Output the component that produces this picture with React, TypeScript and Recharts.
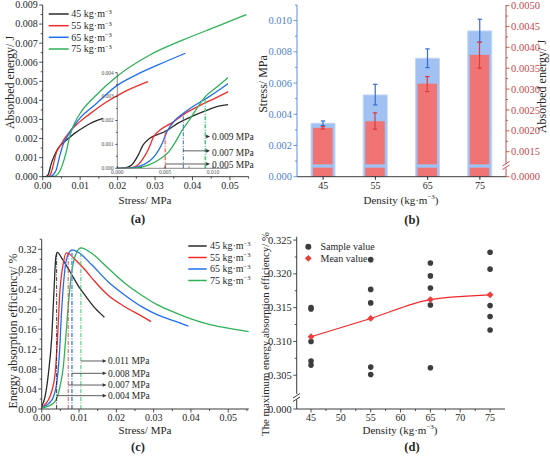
import React from "react";
import {
  Bar,
  ComposedChart,
  ErrorBar,
  Line,
  LineChart,
  ReferenceLine,
  Scatter,
  XAxis,
  YAxis,
} from "recharts";

// Four Origin-style panels: (a) absorbed energy vs stress with zoomed inset,
// (b) stress / energy bars per density, (c) efficiency vs stress,
// (d) max efficiency per density with mean fit.

const SERIF = "'Liberation Serif', 'Times New Roman', serif";
const INK = "#262626";

const densities = ["45", "55", "65", "75"];
const lineColors = ["#2b2b2b", "#f42a2a", "#1f6ef2", "#2fb157"];

// (a) [stress MPa, absorbed energy J]
const energy45 = [[0, 0], [0.001, 0.00002], [0.0015, 0.00012], [0.0023, 0.0007], [0.0032, 0.00114], [0.0041, 0.00149], [0.0059, 0.00184], [0.0085, 0.00227], [0.0112, 0.00262], [0.0134, 0.00286], [0.0161, 0.00306]];
const energy55 = [[0, 0], [0.0015, 0.00002], [0.0021, 0.00012], [0.0027, 0.00052], [0.0036, 0.00123], [0.0045, 0.00157], [0.0076, 0.00245], [0.0094, 0.0028], [0.0125, 0.00328], [0.0165, 0.00385], [0.0219, 0.00446], [0.0281, 0.00498]];
const energy65 = [[0, 0], [0.002, 0.00002], [0.0028, 0.0001], [0.0036, 0.00035], [0.0045, 0.00105], [0.0054, 0.00166], [0.0068, 0.00219], [0.0085, 0.00271], [0.0103, 0.00315], [0.0139, 0.00376], [0.0197, 0.00476], [0.025, 0.00534], [0.0308, 0.00586], [0.0381, 0.00647]];
const energy75 = [[0, 0], [0.003, 0.00002], [0.0045, 0.00026], [0.0054, 0.0007], [0.0063, 0.00131], [0.0072, 0.0021], [0.0085, 0.0028], [0.0103, 0.00341], [0.0139, 0.0042], [0.0197, 0.00524], [0.0286, 0.00638], [0.0375, 0.00717], [0.0464, 0.00787], [0.0544, 0.0085]];

// (a) inset, first 0.0116 MPa
const inset45 = [[0, 0], [0.0008, 0.00002], [0.0015, 0.00014], [0.0022, 0.00056], [0.0027, 0.00098], [0.0034, 0.00126], [0.0043, 0.00143], [0.005, 0.00154], [0.0064, 0.0019], [0.0078, 0.00217], [0.0092, 0.0024], [0.0106, 0.0026], [0.0116, 0.00266]];
const inset55 = [[0, 0], [0.0012, 0.00002], [0.0019, 0.00007], [0.0026, 0.00035], [0.0033, 0.00084], [0.0038, 0.00133], [0.0045, 0.00161], [0.0057, 0.0019], [0.0071, 0.0023], [0.0085, 0.0026], [0.0103, 0.00295], [0.0116, 0.00321]];
const inset65 = [[0, 0], [0.0015, 0.00002], [0.0022, 0.00007], [0.0033, 0.00028], [0.004, 0.00056], [0.0047, 0.00105], [0.0052, 0.00154], [0.006, 0.002], [0.0069, 0.0023], [0.0082, 0.00266], [0.0096, 0.003], [0.0116, 0.00355]];
const inset75 = [[0, 0], [0.002, 0.00002], [0.0033, 0.00014], [0.0043, 0.00035], [0.0054, 0.0007], [0.006, 0.00105], [0.0068, 0.00161], [0.0075, 0.002], [0.0083, 0.0025], [0.0092, 0.003], [0.0104, 0.0034], [0.0116, 0.0038]];
// [stress, energy at marker, arrow height, colour]
const insetMarkers = [
  { x: 0.005, top: 0.0016, arrowY: 0.00018, color: "#ee3434", label: "0.005 MPa" },
  { x: 0.0069, top: 0.0023, arrowY: 0.00073, color: "#2a72e6", label: "0.007 MPa" },
  { x: 0.0092, top: 0.003, arrowY: 0.00133, color: "#52c283", label: "0.009 MPa" },
];
const insetArrowEnd = 0.0097;

// (b) per density
const stressMean = [0.00342, 0.00524, 0.00759, 0.00934];
const stressErr = [[0.00015, 0.00015], [0.00064, 0.00068], [0.0006, 0.0006], [0.00072, 0.00075]];
const energyMean = [0.00207, 0.00223, 0.00313, 0.00382];
const energyErr = [[0.00003, 0.00003], [0.00019, 0.0002], [0.00019, 0.00017], [0.00032, 0.0003]];

// (c) [stress MPa, efficiency]
const eff45 = [[0, 0.005], [0.0009, 0.025], [0.0018, 0.071], [0.0027, 0.145], [0.0033, 0.238], [0.0038, 0.305], [0.0042, 0.314], [0.0054, 0.302], [0.0076, 0.275], [0.0103, 0.241], [0.0116, 0.228], [0.0143, 0.202], [0.0168, 0.184]];
const eff55 = [[0, 0.003], [0.0022, 0.025], [0.0036, 0.071], [0.0042, 0.138], [0.0049, 0.238], [0.0058, 0.292], [0.0066, 0.313], [0.0075, 0.31], [0.0089, 0.3], [0.0116, 0.279], [0.0143, 0.255], [0.0178, 0.228], [0.0223, 0.205], [0.0268, 0.186], [0.0293, 0.175]];
const eff65 = [[0, 0.003], [0.0027, 0.018], [0.004, 0.051], [0.0047, 0.105], [0.0054, 0.205], [0.0063, 0.285], [0.0072, 0.312], [0.0082, 0.319], [0.0098, 0.314], [0.0134, 0.289], [0.0178, 0.255], [0.0223, 0.228], [0.0268, 0.205], [0.0312, 0.188], [0.0357, 0.176], [0.0393, 0.166]];
const eff75 = [[0, 0.002], [0.0031, 0.011], [0.0049, 0.045], [0.0058, 0.085], [0.0064, 0.138], [0.0071, 0.205], [0.008, 0.272], [0.0089, 0.305], [0.0105, 0.323], [0.0134, 0.312], [0.0178, 0.282], [0.0223, 0.252], [0.0268, 0.228], [0.0312, 0.208], [0.0357, 0.193], [0.0402, 0.18], [0.0446, 0.17], [0.0491, 0.163], [0.0555, 0.155]];
const peakMarkers = [
  { x: 0.004, top: 0.314, arrowY: 0.0267, color: "#222222", width: 0.9, label: "0.004 MPa" },
  { x: 0.0071, top: 0.313, arrowY: 0.048, color: "#ee3434", width: 0.9, label: "0.007 MPa" },
  { x: 0.0081, top: 0.318, arrowY: 0.0715, color: "#62a4f4", width: 1.8, label: "0.008 MPa" },
  { x: 0.0105, top: 0.323, arrowY: 0.0962, color: "#3cb468", width: 0.9, label: "0.011 MPa" },
];
const peakArrowEnd = 0.0174;

// (d) max efficiency samples per density
const maxEff45 = [0.315, 0.3148, 0.31, 0.3071, 0.3065];
const maxEff55 = [0.3221, 0.3177, 0.3157, 0.3062, 0.3051];
const maxEff65 = [0.3216, 0.3197, 0.3179, 0.3154, 0.3061];
const maxEff75 = [0.3232, 0.3207, 0.3153, 0.3137, 0.3117];
const densityValues = [45, 55, 65, 75];
const maxEffMean = [0.3107, 0.3134, 0.3162, 0.3169];

// ticks (minor ones get no label)
const aXTicks = [0, 0.005, 0.01, 0.015, 0.02, 0.025, 0.03, 0.035, 0.04, 0.045, 0.05, 0.055];
const aXMajor = [0, 0.01, 0.02, 0.03, 0.04, 0.05];
const aYTicks = [0, 0.0005, 0.001, 0.0015, 0.002, 0.0025, 0.003, 0.0035, 0.004, 0.0045, 0.005, 0.0055, 0.006, 0.0065, 0.007, 0.0075, 0.008, 0.0085, 0.009];
const aYMajor = [0, 0.001, 0.002, 0.003, 0.004, 0.005, 0.006, 0.007, 0.008, 0.009];
const insetXTicks = [0, 0.0025, 0.005, 0.0075, 0.01];
const insetXMajor = [0, 0.005, 0.01];
const insetYTicks = [0, 0.0005, 0.001, 0.0015, 0.002, 0.0025, 0.003, 0.0035, 0.004];
const insetYMajor = [0, 0.001, 0.002, 0.003, 0.004];
const stressTicks = [0, 0.001, 0.002, 0.003, 0.004, 0.005, 0.006, 0.007, 0.008, 0.009, 0.01, 0.011];
const stressMajor = [0, 0.002, 0.004, 0.006, 0.008, 0.01];
const energyBreakBase = 0.000901; // axis bottom, shown as 0.0000
const energyTicks = [energyBreakBase, 0.0015, 0.00175, 0.002, 0.00225, 0.0025, 0.00275, 0.003, 0.00325, 0.0035, 0.00375, 0.004, 0.00425, 0.0045, 0.00475, 0.005];
const energyMajor = [energyBreakBase, 0.0015, 0.002, 0.0025, 0.003, 0.0035, 0.004, 0.0045, 0.005];
const cYTicks = [0, 0.02, 0.04, 0.06, 0.08, 0.1, 0.12, 0.14, 0.16, 0.18, 0.2, 0.22, 0.24, 0.26, 0.28, 0.3, 0.32, 0.34];
const cYMajor = [0, 0.04, 0.08, 0.12, 0.16, 0.2, 0.24, 0.28, 0.32];
const dXTicks = [45, 47.5, 50, 52.5, 55, 57.5, 60, 62.5, 65, 67.5, 70, 72.5, 75];
const dXMajor = [45, 50, 55, 60, 65, 70, 75];
const dYTicks = [0.3, 0.305, 0.3075, 0.31, 0.3125, 0.315, 0.3175, 0.32, 0.3225, 0.325];
const dYMajor = [0.3, 0.305, 0.31, 0.315, 0.32, 0.325];

const toPts = (rows: number[][]) => rows.map(([x, y]) => ({ x, y }));
const energySeries = [energy45, energy55, energy65, energy75].map(toPts);
const insetSeries = [inset45, inset55, inset65, inset75].map(toPts);
const effSeries = [eff45, eff55, eff65, eff75].map(toPts);
const barData = densities.map((density, i) => ({
  density,
  stress: stressMean[i],
  stressErr: stressErr[i],
  energy: energyMean[i],
  energyErr: energyErr[i],
}));
const sampleData = [maxEff45, maxEff55, maxEff65, maxEff75].flatMap((vals, i) =>
  vals.map((y) => ({ x: densityValues[i], y })),
);
const meanData = densityValues.map((x, i) => ({ x, y: maxEffMean[i] }));

// custom ticks: Origin style short major / shorter minor, labels only on majors
const TICK_OFF = 5; // tickSize 3 + tickMargin 2
function tickRenderer(
  side: "bottom" | "left" | "right",
  majors: number[],
  fmt: (v: number) => string,
  opt: { color?: string; axis?: string; size?: number; major?: number; minor?: number } = {},
) {
  const color = opt.color ?? INK;
  const axis = opt.axis ?? INK;
  const fs = opt.size ?? 10;
  const lMaj = opt.major ?? 3.5;
  const lMin = opt.minor ?? 2;
  return (p: any) => {
    const v = Number(p.payload?.value);
    const isMajor = majors.some((m) => Math.abs(m - v) <= Math.abs(m) * 1e-6 + 1e-12);
    const len = isMajor ? lMaj : lMin;
    if (side === "bottom") {
      const ay = p.y - TICK_OFF;
      return (
        <g>
          <line x1={p.x} x2={p.x} y1={ay} y2={ay + len} stroke={axis} strokeWidth={0.8} />
          {isMajor && (
            <text x={p.x} y={ay + lMaj + 1.5} dy="0.72em" textAnchor="middle" fontSize={fs} fontFamily={SERIF} fill={color}>
              {fmt(v)}
            </text>
          )}
        </g>
      );
    }
    const dir = side === "left" ? -1 : 1;
    const ax = p.x - dir * TICK_OFF;
    return (
      <g>
        <line x1={ax} x2={ax + dir * len} y1={p.y} y2={p.y} stroke={axis} strokeWidth={0.8} />
        {isMajor && (
          <text
            x={ax + dir * (lMaj + 1.5)}
            y={p.y}
            dy="0.34em"
            textAnchor={side === "left" ? "end" : "start"}
            fontSize={fs}
            fontFamily={SERIF}
            fill={color}
          >
            {fmt(v)}
          </text>
        )}
      </g>
    );
  };
}

const fixed = (d: number) => (v: number) => v.toFixed(d);
const aXTick = tickRenderer("bottom", aXMajor, fixed(2));
const aYTick = tickRenderer("left", aYMajor, fixed(3));
const insetXTick = tickRenderer("bottom", insetXMajor, fixed(3), { size: 5.5, major: 2, minor: 1.2, color: "#555" });
const insetYTick = tickRenderer("left", insetYMajor, fixed(3), { size: 5.5, major: 2, minor: 1.2, color: "#555" });
const stressTick = tickRenderer("left", stressMajor, fixed(3), { color: "#4f7fd0", axis: "#4f7fd0", size: 10.5 });
const energyTick = tickRenderer("right", energyMajor, (v) => (v < 0.001 ? "0.0000" : v.toFixed(4)), {
  color: "#c24848",
  axis: "#b83a3a",
  size: 10.5,
});
const cXTick = tickRenderer("bottom", aXMajor, fixed(2));
const cYTick = tickRenderer("left", cYMajor, fixed(2), { size: 10.5 });
const dXTick = tickRenderer("bottom", dXMajor, (v) => String(v));
const dYTick = tickRenderer("left", dYMajor, (v) => (v < 0.3001 ? "0.000" : v.toFixed(3)), { size: 10.5 });

const numAxis = {
  type: "number" as const,
  allowDataOverflow: true,
  interval: 0 as const,
  tickLine: false,
  tickSize: 3,
  tickMargin: 2,
  axisLine: { stroke: INK, strokeWidth: 0.9 },
};

function Arrow(p: any) {
  const { x1, y1, x2, y2 } = p;
  const head = 4;
  return (
    <g>
      <line x1={x1} y1={y1} x2={x2 - head} y2={y2} stroke="#333" strokeWidth={0.8} />
      <polygon points={`${x2},${y2} ${x2 - head},${y2 - 1.8} ${x2 - head},${y2 + 1.8}`} fill="#333" />
    </g>
  );
}

function EnergyChart() {
  return (
    <LineChart width={275} height={230} margin={{ top: 5, right: 26.3, bottom: 33.3, left: 0 }}>
      <XAxis {...numAxis} dataKey="x" domain={[0, 0.055]} ticks={aXTicks} tick={aXTick} height={20} />
      <YAxis {...numAxis} dataKey="y" domain={[0, 0.009]} ticks={aYTicks} tick={aYTick} width={42.7} />
      {energySeries.map((data, i) => (
        <Line
          key={densities[i]}
          data={data}
          dataKey="y"
          type="monotone"
          stroke={lineColors[i]}
          strokeWidth={1.3}
          dot={false}
          isAnimationActive={false}
        />
      ))}
    </LineChart>
  );
}

function EnergyInset() {
  return (
    <LineChart width={150} height={115} margin={{ top: 7.7, right: 11.7, bottom: 0, left: 0 }}>
      <XAxis
        {...numAxis}
        axisLine={{ stroke: "#555", strokeWidth: 0.7 }}
        tickSize={1}
        dataKey="x"
        domain={[0, 0.0116]}
        ticks={insetXTicks}
        tick={insetXTick}
        height={11.7}
      />
      <YAxis
        {...numAxis}
        axisLine={{ stroke: "#555", strokeWidth: 0.7 }}
        dataKey="y"
        domain={[0, 0.004]}
        ticks={insetYTicks}
        tick={insetYTick}
        width={27.3}
      />
      {insetSeries.map((data, i) => (
        <Line
          key={densities[i]}
          data={data}
          dataKey="y"
          type="monotone"
          stroke={lineColors[i]}
          strokeWidth={1.3}
          dot={false}
          isAnimationActive={false}
        />
      ))}
      {insetMarkers.map((m) => (
        <ReferenceLine
          key={m.label}
          segment={[{ x: m.x, y: 0 }, { x: m.x, y: m.top }]}
          stroke={m.color}
          strokeWidth={m.color === "#52c283" ? 1.6 : 1}
          strokeDasharray="4 1.5 1 1.5"
          ifOverflow="visible"
        />
      ))}
      {insetMarkers.map((m) => (
        <ReferenceLine
          key={m.label + "-arrow"}
          segment={[{ x: m.x, y: m.arrowY }, { x: insetArrowEnd, y: m.arrowY }]}
          shape={Arrow}
          ifOverflow="visible"
        />
      ))}
    </LineChart>
  );
}

function BrokenBar(p: any) {
  const { x, y, width, height } = p;
  if (!height) return null;
  const bottom = y + height;
  const gapTop = bottom - 12.4;
  const gapBottom = bottom - 9;
  return (
    <g>
      <rect x={x} y={y} width={width} height={gapTop - y} fill="#f17474" />
      <rect x={x} y={gapBottom} width={width} height={bottom - gapBottom} fill="#f17474" />
    </g>
  );
}

function BarsChart() {
  return (
    <ComposedChart width={310} height={230} data={barData} margin={{ top: 5, right: 0, bottom: 33.3, left: 0 }}>
      <XAxis
        xAxisId="blue"
        dataKey="density"
        type="category"
        height={20}
        tickSize={3}
        tickMargin={2}
        tickLine={{ stroke: INK }}
        axisLine={{ stroke: INK, strokeWidth: 0.9 }}
        tick={{ fontSize: 10, fill: INK, fontFamily: SERIF }}
      />
      <XAxis xAxisId="red" dataKey="density" type="category" hide />
      <YAxis
        {...numAxis}
        yAxisId="left"
        axisLine={{ stroke: "#4f7fd0", strokeWidth: 0.9 }}
        domain={[0, 0.011]}
        ticks={stressTicks}
        tick={stressTick}
        width={57}
      />
      <YAxis
        {...numAxis}
        yAxisId="right"
        orientation="right"
        axisLine={{ stroke: "#b83a3a", strokeWidth: 0.9 }}
        domain={[energyBreakBase, 0.005014]}
        ticks={energyTicks}
        tick={energyTick}
        width={44}
      />
      <Bar
        xAxisId="blue"
        yAxisId="left"
        dataKey="stress"
        barSize={24}
        fill="#a1c1f2"
        stroke="#c2d7f7"
        strokeWidth={1}
        isAnimationActive={false}
      >
        <ErrorBar dataKey="stressErr" width={2.2} stroke="#2f6fd6" strokeWidth={1.2} />
      </Bar>
      <Bar
        xAxisId="red"
        yAxisId="right"
        dataKey="energy"
        barSize={19.5}
        fill="#f17474"
        shape={BrokenBar}
        isAnimationActive={false}
      >
        <ErrorBar dataKey="energyErr" width={2.2} stroke="#e03a3a" strokeWidth={1.2} />
      </Bar>
    </ComposedChart>
  );
}

function EfficiencyChart() {
  return (
    <LineChart width={275} height={233} margin={{ top: 9.3, right: 26.2, bottom: 34, left: 0 }}>
      <XAxis {...numAxis} dataKey="x" domain={[0, 0.0555]} ticks={aXTicks} tick={cXTick} height={20} />
      <YAxis {...numAxis} dataKey="y" domain={[0, 0.34]} ticks={cYTicks} tick={cYTick} width={41.7} />
      {effSeries.map((data, i) => (
        <Line
          key={densities[i]}
          data={data}
          dataKey="y"
          type="monotone"
          stroke={lineColors[i]}
          strokeWidth={1.3}
          dot={false}
          isAnimationActive={false}
        />
      ))}
      {peakMarkers.map((m) => (
        <ReferenceLine
          key={m.label}
          segment={[{ x: m.x, y: 0 }, { x: m.x, y: m.top }]}
          stroke={m.color}
          strokeWidth={m.width}
          strokeDasharray="4 1.5 1 1.5"
          ifOverflow="visible"
        />
      ))}
      {peakMarkers.map((m) => (
        <ReferenceLine
          key={m.label + "-arrow"}
          segment={[{ x: m.x, y: m.arrowY }, { x: peakArrowEnd, y: m.arrowY }]}
          shape={Arrow}
          ifOverflow="visible"
        />
      ))}
    </LineChart>
  );
}

const SampleDot = (p: any) => <circle cx={p.cx} cy={p.cy} r={2.8} fill="#3d3d3d" />;
const MeanDiamond = (p: any) => {
  const s = 3.4;
  return (
    <polygon
      key={`d-${p.index}`}
      points={`${p.cx},${p.cy - s} ${p.cx + s},${p.cy} ${p.cx},${p.cy + s} ${p.cx - s},${p.cy}`}
      fill="#f23b3b"
    />
  );
};

function MaxEfficiencyChart() {
  return (
    <ComposedChart width={310} height={233} margin={{ top: 6.7, right: 45, bottom: 34, left: 0 }}>
      <XAxis {...numAxis} dataKey="x" domain={[42.6, 77.5]} ticks={dXTicks} tick={dXTick} height={20} />
      <YAxis {...numAxis} dataKey="y" domain={[0.3, 0.3255]} ticks={dYTicks} tick={dYTick} width={56.7} />
      <Scatter data={sampleData} shape={SampleDot} isAnimationActive={false} />
      <Line
        data={meanData}
        dataKey="y"
        type="monotone"
        stroke="#f02828"
        strokeWidth={1.2}
        dot={MeanDiamond}
        isAnimationActive={false}
      />
    </ComposedChart>
  );
}

function Unit({ sup = 6.5 }: { sup?: number }) {
  return (
    <>
      kg·m<tspan dy={-3.5} fontSize={sup}>−3</tspan>
    </>
  );
}

function Overlay() {
  const legendA = [14, 25.7, 37.3, 49];
  const legendC = [246, 257.5, 269, 280.5];
  return (
    <svg
      width={550}
      height={463}
      style={{ position: "absolute", left: 0, top: 0, pointerEvents: "none" }}
      fontFamily={SERIF}
      fill={INK}
    >
      {/* (a) */}
      <text transform="translate(10,82.5) rotate(-90)" textAnchor="middle" dominantBaseline="central" fontSize={12}>
        Absorbed energy/ J
      </text>
      <text x={145} y={200} textAnchor="middle" dominantBaseline="central" fontSize={11}>
        Stress/ MPa
      </text>
      <text x={138} y={219} textAnchor="middle" dominantBaseline="central" fontSize={12.5} fontWeight="bold">
        (a)
      </text>
      {legendA.map((y, i) => (
        <g key={`la-${i}`}>
          <line x1={48.7} x2={68.7} y1={y} y2={y} stroke={lineColors[i]} strokeWidth={1.5} />
          <text x={71.3} y={y} dy="0.34em" fontSize={10}>
            {densities[i]} <Unit />
          </text>
        </g>
      ))}
      {insetMarkers.map((m, i) => (
        <text key={m.label} x={212} y={[164.3, 152.5, 137][i]} dy="0.34em" fontSize={9.5}>
          {m.label}
        </text>
      ))}

      {/* (b) */}
      <text transform="translate(263,84) rotate(-90)" textAnchor="middle" dominantBaseline="central" fontSize={12}>
        Stress/ MPa
      </text>
      <text transform="translate(542,86.5) rotate(-90)" textAnchor="middle" dominantBaseline="central" fontSize={12}>
        Absorbed energy/ J
      </text>
      <text x={401} y={200} textAnchor="middle" dominantBaseline="central" fontSize={11}>
        Density  (<Unit sup={7} />
        <tspan dy={3.5}>)</tspan>
      </text>
      <text x={412} y={220} textAnchor="middle" dominantBaseline="central" fontSize={12.5} fontWeight="bold">
        (b)
      </text>
      <rect x={503} y={163.4} width={6} height={5} fill="#fff" />
      <line x1={502.5} y1={166} x2={509.5} y2={161.5} stroke="#b83a3a" strokeWidth={0.9} />
      <line x1={502.5} y1={169.5} x2={509.5} y2={165} stroke="#b83a3a" strokeWidth={0.9} />

      {/* (c) */}
      <text transform="translate(13,331) rotate(-90)" textAnchor="middle" dominantBaseline="central" fontSize={12}>
        Energy absorption efficiency/ %
      </text>
      <text x={145} y={430} textAnchor="middle" dominantBaseline="central" fontSize={11}>
        Stress/ MPa
      </text>
      <text x={138} y={447} textAnchor="middle" dominantBaseline="central" fontSize={12.5} fontWeight="bold">
        (c)
      </text>
      {legendC.map((y, i) => (
        <g key={`lc-${i}`}>
          <line x1={188.3} x2={206.7} y1={y} y2={y} stroke={lineColors[i]} strokeWidth={1.5} />
          <text x={210} y={y} dy="0.34em" fontSize={10}>
            {densities[i]} <Unit />
          </text>
        </g>
      ))}
      {peakMarkers.map((m, i) => (
        <text key={m.label} x={108} y={[395.7, 385, 373.3, 361][i]} dy="0.34em" fontSize={9.5}>
          {m.label}
        </text>
      ))}

      {/* (d) */}
      <text transform="translate(265,334) rotate(-90)" textAnchor="middle" dominantBaseline="central" fontSize={10.8}>
        The maximum energy absorption efficiency/ %
      </text>
      <text x={400} y={430} textAnchor="middle" dominantBaseline="central" fontSize={11}>
        Density  (<Unit sup={7} />
        <tspan dy={3.5}>)</tspan>
      </text>
      <text x={412} y={447} textAnchor="middle" dominantBaseline="central" fontSize={12.5} fontWeight="bold">
        (d)
      </text>
      <circle cx={308.3} cy={246.7} r={3} fill="#3d3d3d" />
      <text x={320.5} y={246.7} dy="0.34em" fontSize={10}>
        Sample value
      </text>
      <polygon points="308.3,254.9 311.7,258.3 308.3,261.7 304.9,258.3" fill="#f23b3b" />
      <text x={320.5} y={258.3} dy="0.34em" fontSize={10}>
        Mean value
      </text>
      <rect x={294} y={394} width={6} height={5.5} fill="#fff" />
      <line x1={293} y1={398} x2={300} y2={393.5} stroke={INK} strokeWidth={0.9} />
      <line x1={293} y1={401.5} x2={300} y2={397} stroke={INK} strokeWidth={0.9} />
    </svg>
  );
}

export default function App() {
  return (
    <div
      style={{
        position: "fixed",
        left: 0,
        top: 0,
        width: 550,
        height: 463,
        background: "#fff",
        overflow: "hidden",
        fontFamily: SERIF,
      }}
    >
      <div style={{ position: "absolute", left: 0, top: 0 }}>
        <EnergyChart />
      </div>
      <div style={{ position: "absolute", left: 90, top: 65 }}>
        <EnergyInset />
      </div>
      <div style={{ position: "absolute", left: 240, top: 0 }}>
        <BarsChart />
      </div>
      <div style={{ position: "absolute", left: 0, top: 230 }}>
        <EfficiencyChart />
      </div>
      <div style={{ position: "absolute", left: 240, top: 230 }}>
        <MaxEfficiencyChart />
      </div>
      <Overlay />
    </div>
  );
}
